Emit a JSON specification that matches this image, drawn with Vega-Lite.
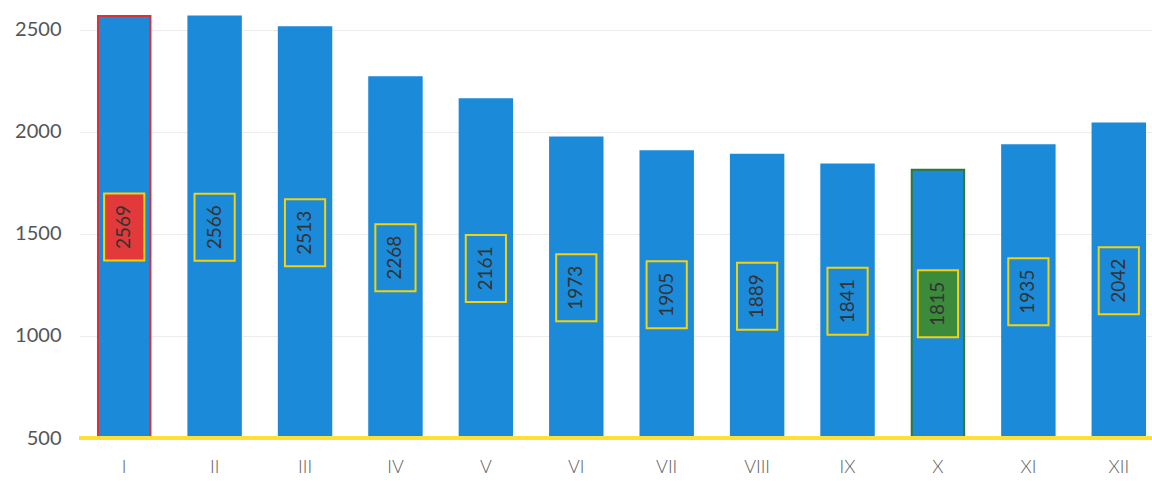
{
  "$schema": "https://vega.github.io/schema/vega-lite/v6.json",
  "width": 1085,
  "height": 438,
  "autosize": "none",
  "padding": {"left": 79, "top": 0, "right": 0, "bottom": 43},
  "background": "white",
  "config": {"view": {"stroke": null}},
  "data": {"values": [
    {"m": "I", "v": 2569, "hl": "max"},
    {"m": "II", "v": 2566, "hl": "none"},
    {"m": "III", "v": 2513, "hl": "none"},
    {"m": "IV", "v": 2268, "hl": "none"},
    {"m": "V", "v": 2161, "hl": "none"},
    {"m": "VI", "v": 1973, "hl": "none"},
    {"m": "VII", "v": 1905, "hl": "none"},
    {"m": "VIII", "v": 1889, "hl": "none"},
    {"m": "IX", "v": 1841, "hl": "none"},
    {"m": "X", "v": 1815, "hl": "min"},
    {"m": "XI", "v": 1935, "hl": "none"},
    {"m": "XII", "v": 2042, "hl": "none"}
  ]},
  "transform": [{"calculate": "(datum.v + 500) / 2", "as": "mid"}],
  "layer": [
    {
      "mark": {"type": "bar", "color": "#1b8ad9", "strokeWidth": 2},
      "encoding": {
        "x": {
          "field": "m", "type": "ordinal", "sort": null,
          "scale": {"paddingInner": 0.42, "paddingOuter": 0.21},
          "axis": {"title": null, "labelAngle": 0, "domain": false, "ticks": false, "labelPadding": 20,
                   "labelFont": "Lato", "labelFontSize": 18, "labelColor": "#606060", "labelFontWeight": 300}
        },
        "y": {"field": "v", "type": "quantitative",
              "scale": {"domain": [500, 2647], "zero": false, "nice": false},
              "axis": {"title": null, "values": [500, 1000, 1500, 2000, 2500], "format": "d", "domain": false, "ticks": false,
                       "labelPadding": 18, "labelFont": "Lato", "labelFontSize": 20, "labelColor": "#555555",
                       "gridColor": "#ececec", "gridWidth": 1}},
        "y2": {"datum": 500},
        "stroke": {"field": "hl", "type": "nominal", "legend": null,
                   "scale": {"domain": ["max", "min", "none"], "range": ["#d8323a", "#2f7a2f", "#1b8ad9"]}}
      }
    },
    {
      "mark": {"type": "rule", "color": "#ffe135", "strokeWidth": 4},
      "encoding": {"y": {"datum": 500}}
    },
    {
      "mark": {"type": "point", "shape": "M-0.6,-1H0.6V1H-0.6Z", "size": 4489, "filled": false,
               "stroke": "#f5d20a", "strokeWidth": 2, "opacity": 1},
      "encoding": {
        "x": {"field": "m", "type": "ordinal", "sort": null},
        "y": {"field": "mid", "type": "quantitative"},
        "fill": {"field": "hl", "type": "nominal", "legend": null,
                 "scale": {"domain": ["max", "min", "none"], "range": ["#e2393a", "#3c8a3c", "#1b8ad9"]}}
      }
    },
    {
      "mark": {"type": "text", "angle": 270, "align": "center", "baseline": "middle",
               "font": "Lato", "fontSize": 19, "color": "#333333"},
      "encoding": {
        "x": {"field": "m", "type": "ordinal", "sort": null},
        "y": {"field": "mid", "type": "quantitative"},
        "text": {"field": "v", "type": "quantitative", "format": "d"}
      }
    }
  ]
}
